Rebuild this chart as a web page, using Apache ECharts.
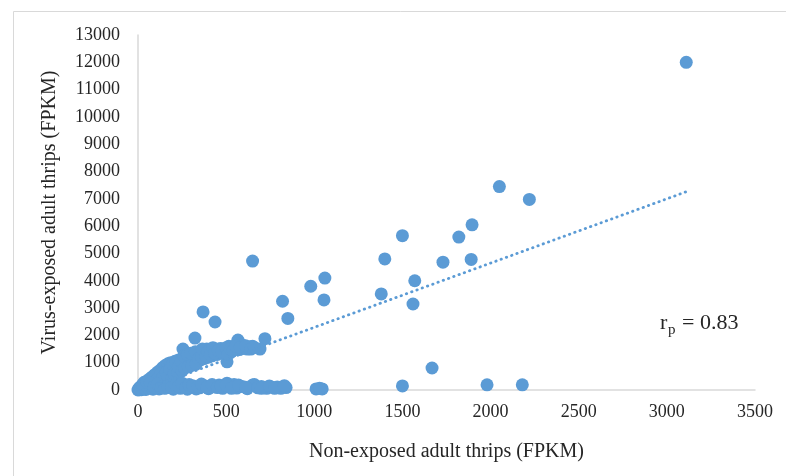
<!DOCTYPE html>
<html>
<head>
<meta charset="utf-8">
<script src="https://cdn.jsdelivr.net/npm/echarts@6/dist/echarts.min.js"></script>
<style>html,body{margin:0;padding:0;background:#fff}#c{width:786px;height:476px}</style>
</head>
<body>
<div id="c"></div>
<script>
// Non-exposed adult thrips FPKM (x) and virus-exposed adult thrips FPKM (y)
const nonExposed = [
  3110,2050,2220,1895,1820,1500,1890,1730,1400,1570,1560,1380,1060,980,1055,650,820,850,369,437,323,720,567,635,692,255,505,
  1668,1500,1980,2180,1010,1045,1030,840,790,730,700,660,650,560,520,505,480,430,400,380,350,330,300,280,260,240,220,200,180,160,140,120,100,80,60,40,20,10,590,620,760,810,460,545,
  0,5,10,15,20,25,30,35,40,45,50,55,60,65,70,75,80,85,90,95,100,105,110,115,120,125,130,135,140,145,150,155,160,165,170,175,180,185,190,200,205,210,215,220,230,235,240,250,255,260,270,275,280,290,295,300,310,315,320,330,335,340,350,355,360,370,375,380,390,400,405,415,420,430,440,450,460,470,480,490,500,515,530,545,560,575,590,605,620,650,
  60,80,90,110,120,130,140,150,160,170,180,190,195,205,215,225,230,245,250,260,265,280,285,300,305,325,330,345,360,365,385,395,410,425,435,455,475,500,510,525,540,555,580,610,640,660,
  30,50,70,90,110,130,150,170,190,210,230,250,270,290,310,340,360,390,420,450,470,500,530,570,610,680,700,745,775,830
];
const virusExposed = [
  12000,7450,6980,6050,5600,5650,4780,4680,4800,4000,3150,3520,4100,3800,3300,4720,3250,2620,2860,2490,1900,1880,1830,1580,1500,1500,1030,
  805,150,190,190,40,40,60,90,110,60,130,200,180,70,110,250,60,120,50,150,80,40,100,30,160,60,110,30,200,80,150,40,250,100,180,40,120,10,130,50,100,60,180,200,
  0,60,30,120,10,200,90,280,150,20,330,220,60,400,140,300,480,30,360,560,180,450,650,90,520,720,300,620,820,200,700,900,420,780,960,560,880,1000,680,920,780,1050,500,850,1100,700,980,1150,820,1050,1200,900,1100,1250,950,1150,1300,1000,1200,1350,1050,1250,1400,1100,1300,1450,1150,1350,1500,1200,1400,1450,1250,1450,1500,1300,1500,1520,1350,1480,1450,1600,1400,1550,1700,1480,1650,1550,1500,1600,
  250,150,500,400,250,600,450,350,650,500,750,400,950,600,1000,650,850,1050,700,1250,800,1300,850,1350,900,1400,950,1150,1200,1500,1250,1400,1300,1550,1350,1450,1400,1550,1300,1500,1450,1600,1560,1620,1500,1560,
  200,300,250,120,220,100,60,140,100,200,150,250,90,200,160,130,220,100,200,90,150,180,60,180,100,80,60,150,60,160
];
// Linear trendline end points (x, y)
const trendX = [0, 3110];
const trendY = [-60, 7260];
const xTicks = {min: 0, max: 3500, interval: 500};
const yTicks = {min: 0, max: 13000, interval: 1000};

const points = nonExposed.map((x, i) => [x, virusExposed[i]]);
const trend = trendX.map((x, i) => [x, trendY[i]]);

const chart = echarts.init(document.getElementById('c'), null, {renderer: 'canvas'});
const serif = '"Liberation Serif", "Times New Roman", serif';
const plain = v => String(v);
chart.setOption({
  animation: false,
  backgroundColor: '#ffffff',
  grid: {left: 138, right: 31, top: 35, bottom: 86},
  xAxis: {
    type: 'value', min: xTicks.min, max: xTicks.max, interval: xTicks.interval,
    axisLine: {show: true, lineStyle: {color: '#d9d9d9', width: 1.5}},
    axisTick: {show: false},
    splitLine: {show: false},
    axisLabel: {fontFamily: serif, fontSize: 18, color: '#262626', margin: 13, formatter: plain},
    name: 'Non-exposed adult thrips (FPKM)',
    nameLocation: 'middle', nameGap: 52,
    nameTextStyle: {fontFamily: serif, fontSize: 20, color: '#262626'}
  },
  yAxis: {
    type: 'value', min: yTicks.min, max: yTicks.max, interval: yTicks.interval,
    axisLine: {show: true, lineStyle: {color: '#d9d9d9', width: 1.5}},
    axisTick: {show: false},
    splitLine: {show: false},
    axisLabel: {fontFamily: serif, fontSize: 18, color: '#262626', margin: 18, formatter: plain},
    name: 'Virus-exposed adult thrips (FPKM)',
    nameLocation: 'middle', nameGap: 78, nameRotate: 90,
    nameTextStyle: {fontFamily: serif, fontSize: 20, color: '#262626'}
  },
  graphic: [
    {type: 'rect', silent: true, z: -1, shape: {x: 13.5, y: 11.5, width: 1000, height: 1000},
     style: {fill: 'none', stroke: '#d9d9d9', lineWidth: 1}},
    {type: 'text', left: 660, top: 312, style: {text: 'r', font: '22px ' + serif, fill: '#262626'}},
    {type: 'text', left: 668, top: 323, style: {text: 'p', font: '15px ' + serif, fill: '#262626'}},
    {type: 'text', left: 682, top: 312, style: {text: '= 0.83', font: '22px ' + serif, fill: '#262626'}}
  ],
  series: [
    {type: 'scatter', data: points, symbol: 'circle', symbolSize: 13,
     itemStyle: {color: '#5B9BD5', opacity: 1}, z: 2},
    {type: 'line', data: trend, showSymbol: false, symbol: 'none', clip: true, z: 3,
     lineStyle: {color: '#5B9BD5', width: 2.8, type: [0.4, 5.2], cap: 'round'}}
  ]
});
</script>
</body>
</html>
